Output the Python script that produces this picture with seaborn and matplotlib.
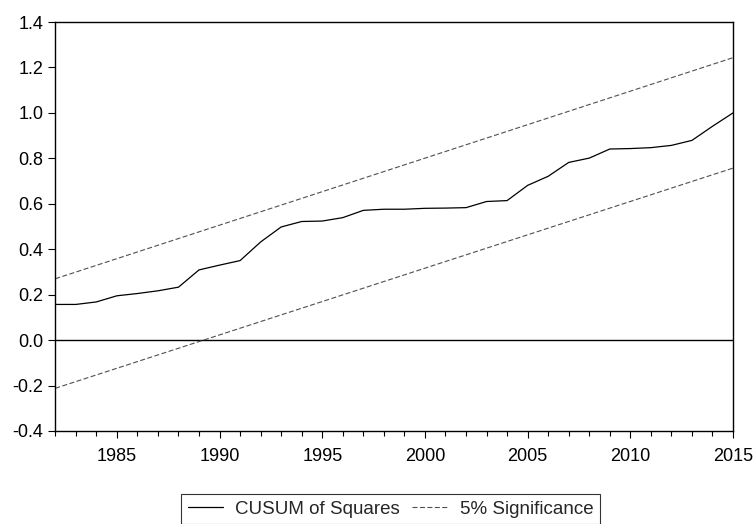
import matplotlib
matplotlib.use("Agg")
import matplotlib.pyplot as plt
import seaborn as sns
import pandas as pd
from matplotlib.ticker import MultipleLocator

years = list(range(1982, 2016))
cusum_sq = [0.157, 0.157, 0.168, 0.195, 0.205, 0.217, 0.233, 0.309, 0.330, 0.350,
            0.432, 0.498, 0.522, 0.524, 0.539, 0.571, 0.576, 0.576, 0.580, 0.581,
            0.583, 0.610, 0.614, 0.681, 0.721, 0.782, 0.801, 0.841, 0.843, 0.847,
            0.857, 0.879, 0.941, 1.000]
bound_years = [1982, 2015]
upper_bound = [0.27, 1.243]
lower_bound = [-0.212, 0.757]

y_ticks = [-0.4, -0.2, 0.0, 0.2, 0.4, 0.6, 0.8, 1.0, 1.2, 1.4]
x_ticks = [1985, 1990, 1995, 2000, 2005, 2010, 2015]

sns.set_style("ticks")
plt.rcParams['font.family'] = ['Liberation Sans', 'DejaVu Sans']

df = pd.DataFrame({"year": years, "value": cusum_sq})
bdf = pd.DataFrame({"year": bound_years, "upper": upper_bound, "lower": lower_bound})

fig = plt.figure(figsize=(7.56, 5.24), dpi=100)
ax = fig.add_axes([0.0731, 0.1775, 0.8965, 0.7805])

ax.axhline(0.0, color="black", linewidth=1.0, zorder=1)
sns.lineplot(data=df, x="year", y="value", ax=ax, color="black", linewidth=0.9,
             label="CUSUM of Squares", zorder=3)
sns.lineplot(data=bdf, x="year", y="upper", ax=ax, color="#505050", linewidth=0.8,
             linestyle=(0, (4.5, 2.2)), label="5% Significance", zorder=2)
sns.lineplot(data=bdf, x="year", y="lower", ax=ax, color="#505050", linewidth=0.8,
             linestyle=(0, (4.5, 2.2)), zorder=2)

ax.set_xlim(1982, 2015)
ax.set_ylim(-0.4, 1.4)
ax.set_yticks(y_ticks)
ax.set_yticklabels([f"{v:.1f}" for v in y_ticks])
ax.set_xticks(x_ticks)
ax.set_xticklabels([str(v) for v in x_ticks])
ax.xaxis.set_minor_locator(MultipleLocator(1))
ax.set_xlabel("")
ax.set_ylabel("")
for s in ax.spines.values():
    s.set_visible(True)
    s.set_linewidth(1.0)
    s.set_color("black")
ax.tick_params(axis="both", which="major", direction="out", length=5, width=0.8,
               labelsize=13, colors="black", pad=3.5)
ax.tick_params(axis="x", which="minor", direction="out", length=3.3, width=0.8,
               colors="black")
ax.tick_params(axis="x", which="both", top=False)
ax.tick_params(axis="x", which="major", pad=7)
ax.tick_params(axis="y", right=False)

leg = ax.legend(loc="upper center", bbox_to_anchor=(0.495, -0.154), ncol=2,
                frameon=True, fancybox=False, edgecolor="black", fontsize=13.5,
                handlelength=1.9, columnspacing=0.65, handletextpad=0.65,
                borderpad=0.35, borderaxespad=0)
leg.get_frame().set_linewidth(0.8)

fig.savefig("out.png", dpi=100)
